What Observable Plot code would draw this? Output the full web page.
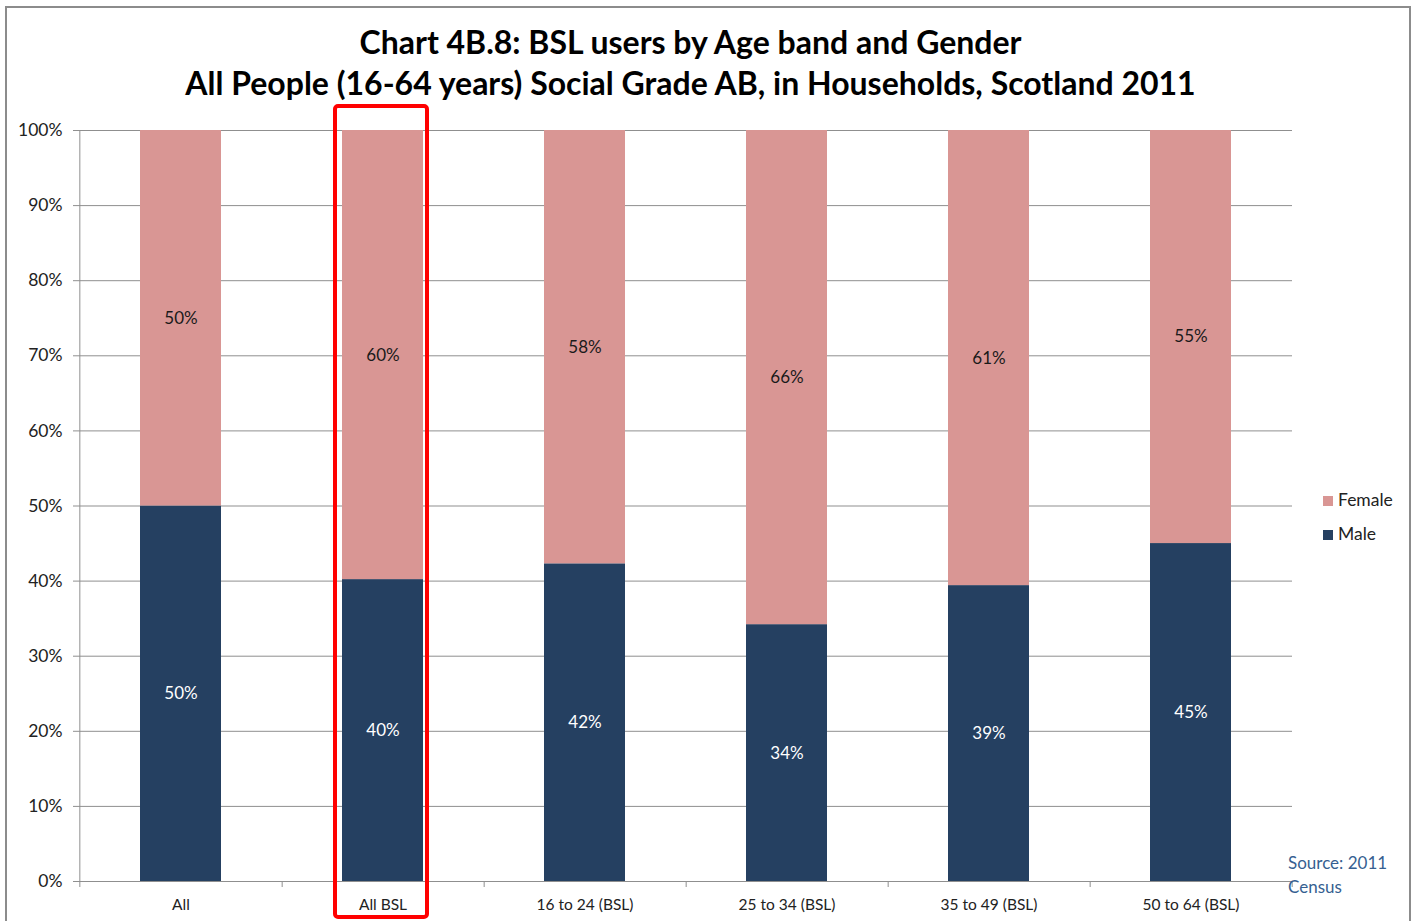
<!DOCTYPE html>
<html><head><meta charset="utf-8">
<script src="https://cdn.jsdelivr.net/npm/d3@7"></script>
<script src="https://cdn.jsdelivr.net/npm/@observablehq/plot@0.6"></script>
<style>
body{margin:0;background:#fff;font-family:Lato,"Open Sans",sans-serif;}
#wrap{position:relative;width:1421px;height:921px;overflow:hidden;}
#frame{position:absolute;left:5px;top:6px;width:1406px;height:940px;border:2px solid #8c8c8c;box-sizing:border-box;}
#title{position:absolute;left:0;top:21px;width:1381px;text-align:center;font-weight:700;font-size:32px;line-height:41px;color:#000;}
#chart{position:absolute;left:0;top:100px;}
.leg{position:absolute;left:1323px;font-size:17.5px;color:#222;}
.leg span.sw{display:inline-block;width:10px;height:10px;margin-right:5px;}
#source{position:absolute;left:1288px;top:851px;font-size:17px;line-height:24px;color:#365F91;}
</style></head>
<body>
<div id="wrap">
<div id="frame"></div>
<div id="title">Chart 4B.8: BSL users by Age band and Gender<br>All People (16-64 years) Social Grade AB, in Households, Scotland 2011</div>
<div id="chart"></div>
<div class="leg" style="top:489px"><span class="sw" style="background:#D99694"></span>Female</div>
<div class="leg" style="top:523px"><span class="sw" style="background:#254061"></span>Male</div>
<div id="source">Source: 2011<br>Census</div>
</div>
<script>
const categories = ["All", "All BSL", "16 to 24 (BSL)", "25 to 34 (BSL)", "35 to 49 (BSL)", "50 to 64 (BSL)"];
const maleValues = [0.500, 0.402, 0.423, 0.342, 0.394, 0.450];
const femaleValues = [0.500, 0.598, 0.577, 0.658, 0.606, 0.550];
const genders = ["Male", "Female"];
const colors = ["#254061", "#D99694"];
const yTicks = [0, 0.1, 0.2, 0.3, 0.4, 0.5, 0.6, 0.7, 0.8, 0.9, 1.0];
const highlight = ["All BSL"];

const data = [];
categories.forEach((c, i) => data.push({cat: c, gender: "Male", value: maleValues[i]}));
categories.forEach((c, i) => data.push({cat: c, gender: "Female", value: femaleValues[i]}));

const grid = "#8f8f8f";
const half = (1421 - 78 - 129) / categories.length / 2;

const chart = Plot.plot({
  width: 1421,
  height: 821,
  marginTop: 30,
  marginBottom: 40,
  marginLeft: 78,
  marginRight: 129,
  style: {fontFamily: "Lato, 'Open Sans', sans-serif", background: "transparent", overflow: "visible"},
  x: {domain: categories, paddingInner: 0.6, paddingOuter: 0.3, label: null},
  y: {domain: [0, 1], label: null},
  color: {domain: genders, range: colors},
  marks: [
    Plot.ruleY(yTicks, {stroke: grid, strokeWidth: 1}),
    Plot.barY(data, {x: "cat", y: "value", fill: "gender", z: "gender"}),
    Plot.text(data, Plot.stackY({x: "cat", y: "value", z: "gender",
      text: d => Math.round(d.value * 100) + "%",
      fill: d => d.gender === "Male" ? "#ffffff" : "#1a1a1a", fontSize: 17})),
    Plot.ruleX([0], {x: () => categories[0], dx: -half, y1: -0.008, y2: 1, stroke: grid}),
    Plot.ruleX(categories, {x: d => d, dx: half, y1: -0.008, y2: 0, stroke: grid}),
    Plot.ruleY([0], {stroke: grid}),
    Plot.axisY({ticks: yTicks, tickFormat: d3.format(".0%"), tickSize: 5, tickPadding: 11, fontSize: 17.5, stroke: grid, color: "#222"}),
    Plot.axisX({tickSize: 0, tickPadding: 17, fontSize: 15.5, color: "#222"}),
    Plot.barY(highlight, {x: d => d, y1: 0, y2: 1, fill: "none", stroke: "#ff0000", strokeWidth: 4,
      insetLeft: -7, insetRight: -4, insetTop: -24, insetBottom: -36, rx: 3})
  ]
});
document.getElementById("chart").appendChild(chart);
</script>
</body></html>
